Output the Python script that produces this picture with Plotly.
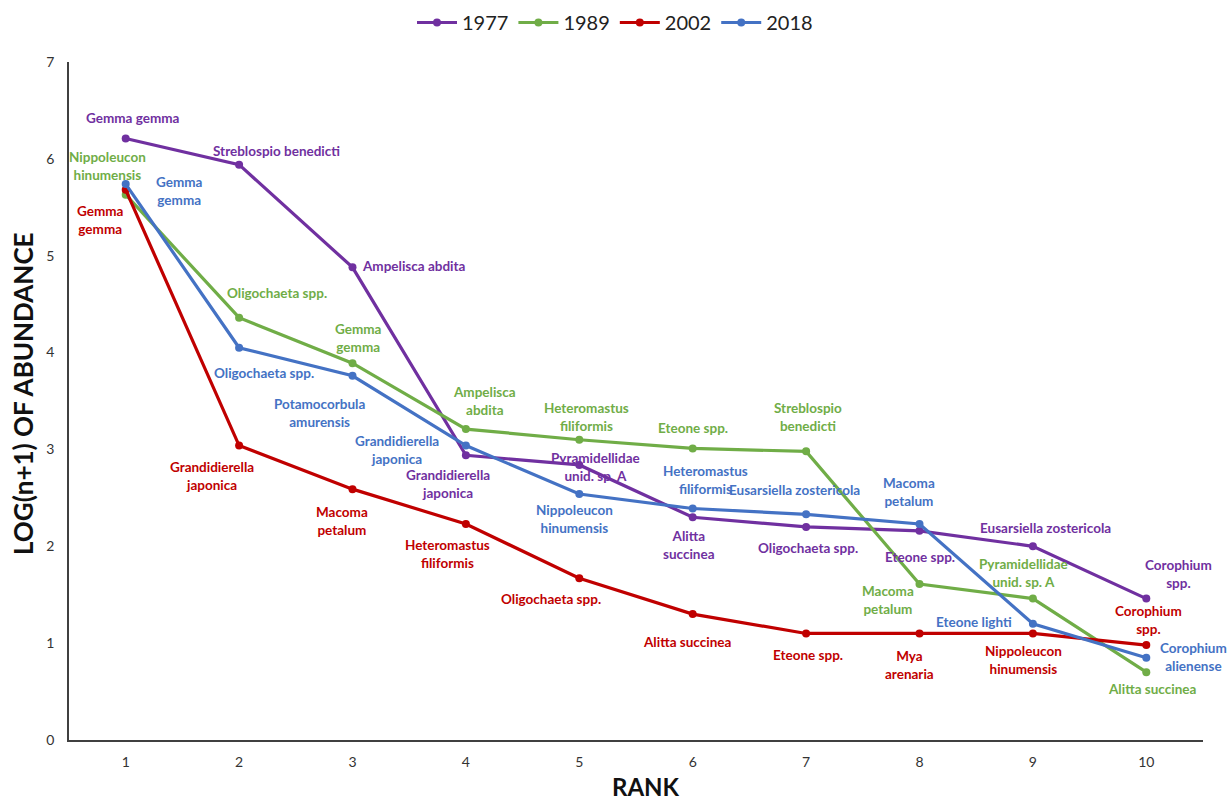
import plotly.graph_objects as go

# Rank-abundance curves, log(n+1) of abundance by rank
ranks = [1, 2, 3, 4, 5, 6, 7, 8, 9, 10]
years = ["1977", "1989", "2002", "2018"]

abund_1977 = [6.21, 5.94, 4.88, 2.94, 2.84, 2.30, 2.20, 2.16, 2.00, 1.46]
abund_1989 = [5.63, 4.36, 3.89, 3.21, 3.10, 3.01, 2.98, 1.61, 1.46, 0.70]
abund_2002 = [5.68, 3.04, 2.59, 2.23, 1.67, 1.30, 1.10, 1.10, 1.10, 0.98]
abund_2018 = [5.74, 4.05, 3.76, 3.04, 2.54, 2.39, 2.33, 2.23, 1.20, 0.85]

colors = {"1977": "#7030A0", "1989": "#70AD47", "2002": "#C00000", "2018": "#4472C4"}
series = {"1977": abund_1977, "1989": abund_1989, "2002": abund_2002, "2018": abund_2018}

# Species names per year (rank order) with label anchor (x in rank units, y in axis units)
labels_1977 = [
    ("Gemma gemma", 1.06, 6.42),
    ("Streblospio benedicti", 2.33, 6.08),
    ("Ampelisca abdita", 3.54, 4.89),
    ("Grandidierella<br>japonica", 3.84, 2.64),
    ("Pyramidellidae<br>unid. sp. A", 5.14, 2.82),
    ("Alitta<br>succinea", 5.97, 2.01),
    ("Oligochaeta spp.", 7.02, 1.98),
    ("Eteone spp.", 8.00, 1.89),
    ("Eusarsiella zostericola", 9.11, 2.19),
    ("Corophium<br>spp.", 10.28, 1.71),
]
labels_1989 = [
    ("Nippoleucon<br>hinumensis", 0.84, 5.93),
    ("Oligochaeta spp.", 2.33, 4.61),
    ("Gemma<br>gemma", 3.05, 4.15),
    ("Ampelisca<br>abdita", 4.16, 3.50),
    ("Heteromastus<br>filiformis", 5.06, 3.34),
    ("Eteone spp.", 6.00, 3.22),
    ("Streblospio<br>benedicti", 7.02, 3.34),
    ("Macoma<br>petalum", 7.72, 1.45),
    ("Pyramidellidae<br>unid. sp. A", 8.92, 1.72),
    ("Alitta succinea", 10.05, 0.53),
]
labels_2002 = [
    ("Gemma<br>gemma", 0.78, 5.37),
    ("Grandidierella<br>japonica", 1.76, 2.73),
    ("Macoma<br>petalum", 2.91, 2.26),
    ("Heteromastus<br>filiformis", 3.84, 1.92),
    ("Oligochaeta spp.", 4.75, 1.46),
    ("Alitta succinea", 5.95, 1.01),
    ("Eteone spp.", 7.02, 0.88),
    ("Mya<br>arenaria", 7.91, 0.77),
    ("Nippoleucon<br>hinumensis", 8.92, 0.83),
    ("Corophium<br>spp.", 10.02, 1.24),
]
labels_2018 = [
    ("Gemma<br>gemma", 1.47, 5.67),
    ("Oligochaeta spp.", 2.22, 3.79),
    ("Potamocorbula<br>amurensis", 2.71, 3.38),
    ("Grandidierella<br>japonica", 3.39, 2.99),
    ("Nippoleucon<br>hinumensis", 4.96, 2.28),
    ("Heteromastus<br>filiformis", 6.11, 2.68),
    ("Eusarsiella zostericola", 6.90, 2.58),
    ("Macoma<br>petalum", 7.91, 2.56),
    ("Eteone lighti", 8.48, 1.22),
    ("Corophium<br>alienense", 10.42, 0.86),
]
species_labels = {"1977": labels_1977, "1989": labels_1989, "2002": labels_2002, "2018": labels_2018}

W, H = 1230, 803
ML, MR, MT, MB = 69, 27, 62, 63


def page_to_paper(px, py):
    """Convert a page pixel position to plot-area (paper) fractions."""
    return (px - ML) / (W - ML - MR), (H - MB - py) / (H - MT - MB)


fig = go.Figure()
for yr in years:
    fig.add_trace(go.Scatter(
        x=ranks, y=series[yr], name=yr, mode="lines+markers",
        line=dict(color=colors[yr], width=3.2),
        marker=dict(color=colors[yr], size=8),
    ))

annotations = []
for yr in years:
    for text, lx, ly in species_labels[yr]:
        annotations.append(dict(
            x=lx, y=ly, xref="x", yref="y", text=text, showarrow=False,
            font=dict(family="Lato", size=13.5, color=colors[yr], weight="bold"),
            align="center", xanchor="center", yanchor="middle",
        ))

# Axis titles
ytx, yty = page_to_paper(23, 394)
annotations.append(dict(
    x=ytx, y=yty, xref="paper", yref="paper", text="<b>LOG(n+1) OF ABUNDANCE</b>",
    showarrow=False, textangle=-90, xanchor="center", yanchor="middle",
    font=dict(family="Lato", size=26, color="#111111"),
))
xtx, xty = page_to_paper(646, 786)
annotations.append(dict(
    x=xtx, y=xty, xref="paper", yref="paper", text="<b>RANK</b>",
    showarrow=False, xanchor="center", yanchor="middle",
    font=dict(family="Lato", size=24, color="#111111"),
))

fig.update_layout(
    width=W, height=H,
    margin=dict(l=ML, r=MR, t=MT, b=MB, autoexpand=False),
    paper_bgcolor="white", plot_bgcolor="white",
    font=dict(family="Lato", color="#333333"),
    showlegend=True,
    legend=dict(
        orientation="h", x=0.5, xanchor="center", xref="container",
        y=0.972, yanchor="middle", yref="container",
        font=dict(size=20, color="#222222", family="Lato"),
        itemwidth=40, traceorder="normal",
    ),
    annotations=annotations,
    xaxis=dict(
        range=[0.5, 10.5], tickmode="array", tickvals=ranks,
        ticktext=[str(r) for r in ranks],
        showgrid=False, zeroline=False, showline=True, linecolor="#404040", linewidth=1.5,
        ticks="", tickfont=dict(size=14, color="#333333"), ticklabelstandoff=8,
    ),
    yaxis=dict(
        range=[0, 7], tickmode="linear", tick0=0, dtick=1,
        showgrid=False, zeroline=False, showline=True, linecolor="#404040", linewidth=1.5,
        ticks="", tickfont=dict(size=14, color="#333333"), ticklabelstandoff=10,
    ),
)

fig.write_html("out.html")
